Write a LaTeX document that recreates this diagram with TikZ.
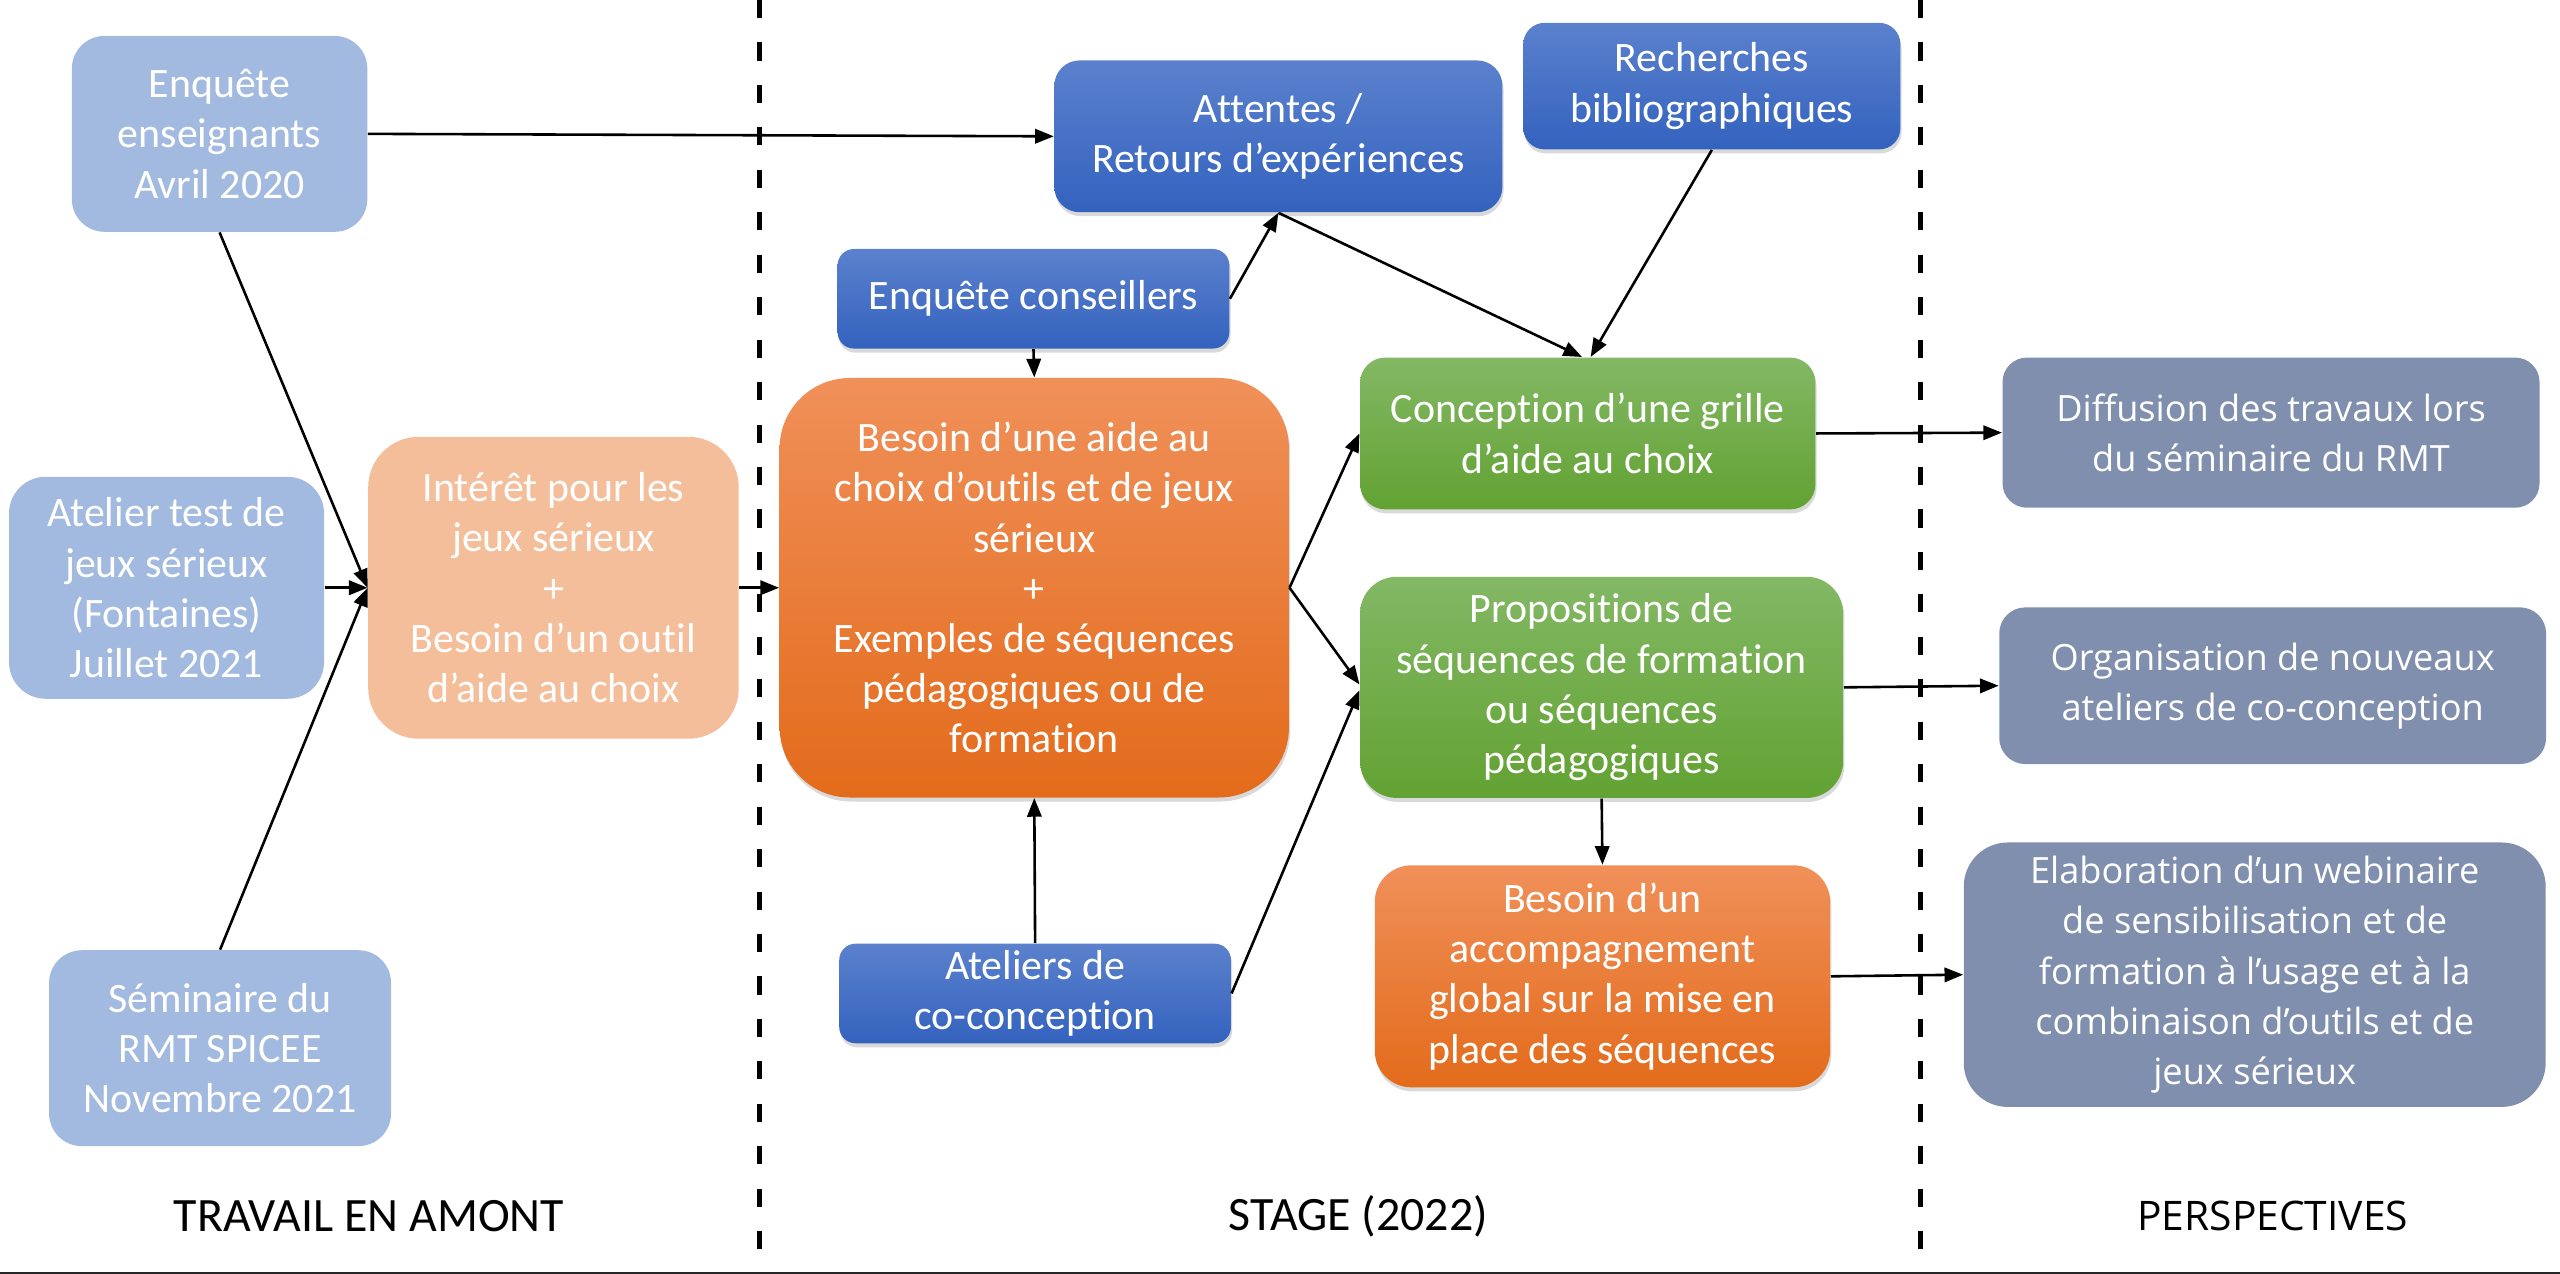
\documentclass[tikz,border=0pt]{standalone}
\usepackage{fontspec}
\setmainfont{Carlito}[Ligatures=NoCommon]
\newfontfamily\osans{Open Sans}[Ligatures=NoCommon]
\usetikzlibrary{shadows,arrows.meta}
\definecolor{paleblue}{HTML}{A2B9E0}
\definecolor{peach}{HTML}{F5BE9A}
\definecolor{bluetop}{HTML}{5B81CD}
\definecolor{bluebot}{HTML}{3362BE}
\definecolor{orangetop}{HTML}{F09059}
\definecolor{orangemid}{HTML}{F47C2D}
\definecolor{orangebot}{HTML}{E36B1B}
\definecolor{greentop}{HTML}{83B865}
\definecolor{greenmid}{HTML}{70AF45}
\definecolor{greenbot}{HTML}{62A232}
\definecolor{slate}{HTML}{808FAE}
\tikzset{box/.style = {rectangle, text=white, align=center, inner sep=2pt, font=\fontsize{14.6}{17.5}\selectfont},
         paleblock/.style = {box, fill=paleblue},
         peachblock/.style = {box, fill=peach},
         shad/.style = {drop shadow={shadow xshift=0.4pt, shadow yshift=-1.4pt, opacity=0.3}},
         blueblock/.style = {box, shad, top color=bluetop, bottom color=bluebot},
         orangeblock/.style = {box, shad, top color=orangetop, middle color=orangemid, bottom color=orangebot},
         greenblock/.style = {box, shad, top color=greentop, middle color=greenmid, bottom color=greenbot},
         greyblock/.style = {box, fill=slate, font=\osans\fontsize{12.6}{17.5}\selectfont},
         arr/.style = {-{Triangle[length=6.5pt,width=5pt]}, line width=0.9pt},
         sep/.style = {line width=1.8pt, dash pattern=on 6.3pt off 8.5pt},
         phase/.style = {font=\fontsize{16.7}{19}\selectfont}}
\begin{document}
\begin{tikzpicture}[x=0.02cm, y=-0.02cm]
    \useasboundingbox (0,0) rectangle (1568,780.3);
    % separations
    \draw[sep] (465,0)--(465,780.3);
    \draw[sep] (1176.5,0)--(1176.5,780.3);
    \draw[line width=0.6pt, black!85] (0,779.5)--(1568,779.5);

    % travail en amont
    \node[paleblock, minimum width=3.62cm, minimum height=2.40cm, rounded corners=0.40cm](ens)at(134.5,82){Enquête\\enseignants\\Avril 2020};
    \node[paleblock, minimum width=3.86cm, minimum height=2.72cm, rounded corners=0.45cm](atel)at(102,360){Atelier test de\\jeux sérieux\\(Fontaines)\\Juillet 2021};
    \node[paleblock, minimum width=4.19cm, minimum height=2.40cm, rounded corners=0.40cm](semi)at(134.8,642){Séminaire du\\RMT SPICEE\\Novembre 2021};
    \node[peachblock, minimum width=4.54cm, minimum height=3.70cm, rounded corners=0.62cm](interet)at(339,360){Intérêt pour les\\jeux sérieux\\+\\Besoin d’un outil\\d’aide au choix};

    % stage
    \node[blueblock, minimum width=5.49cm, minimum height=1.86cm, rounded corners=0.31cm](attentes)at(783,83.5){Attentes /\\Retours d’expériences};
    \node[blueblock, minimum width=4.62cm, minimum height=1.55cm, rounded corners=0.26cm](biblio)at(1048.5,52.75){Recherches\\bibliographiques};
    \node[blueblock, minimum width=4.80cm, minimum height=1.22cm, rounded corners=0.20cm](conseil)at(633,183){Enquête conseillers};
    \node[orangeblock, minimum width=6.24cm, minimum height=5.14cm, rounded corners=0.86cm](besoin)at(633.5,360){Besoin d’une aide au\\choix d’outils et de jeux\\sérieux\\+\\Exemples de séquences\\pédagogiques ou de\\formation};
    \node[blueblock, minimum width=4.80cm, minimum height=1.22cm, rounded corners=0.20cm](cocon)at(634,608.5){Ateliers de\\co-conception};
    \node[greenblock, minimum width=5.58cm, minimum height=1.86cm, rounded corners=0.31cm](grille)at(972.5,265.5){Conception d’une grille\\d’aide au choix};
    \node[greenblock, minimum width=5.92cm, minimum height=2.71cm, rounded corners=0.45cm](propo)at(981,421){Propositions de\\séquences de formation\\ou séquences\\pédagogiques};
    \node[orangeblock, minimum width=5.58cm, minimum height=2.72cm, rounded corners=0.45cm](accomp)at(981.5,598){Besoin d’un\\accompagnement\\global sur la mise en\\place des séquences};

    % perspectives
    \node[greyblock, minimum width=6.58cm, minimum height=1.84cm, rounded corners=0.30cm](diffusion)at(1391,265){Diffusion des travaux lors\\du séminaire du RMT};
    \node[greyblock, minimum width=6.70cm, minimum height=1.92cm, rounded corners=0.32cm](orga)at(1392,420){Organisation de nouveaux\\ateliers de co-conception};
    \node[greyblock, minimum width=7.13cm, minimum height=3.24cm, rounded corners=0.54cm](webi)at(1381,597){Elaboration d’un webinaire\\de sensibilisation et de\\formation à l’usage et à la\\combinaison d’outils et de\\jeux sérieux};

    % titres des phases
    \node[phase](amont)at(226,745){TRAVAIL EN AMONT};
    \node[phase](stage)at(832,745){STAGE (2022)};
    \node[phase, font=\osans\fontsize{14.2}{17}\selectfont](persp)at(1392,745){PERSPECTIVES};

    % liens
    \draw[arr](ens.east)--(attentes.west);
    \draw[arr](ens.south)--(interet.west);
    \draw[arr](atel.east)--(interet.west);
    \draw[arr](semi.north)--(interet.west);
    \draw[arr](interet.east)--(besoin.west);
    \draw[arr](conseil.east)--(attentes.south);
    \draw[arr](conseil.south)--(besoin.north);
    \draw[arr](attentes.south)--([xshift=-2pt]grille.north);
    \draw[arr](biblio.south)--([xshift=1pt]grille.north);
    \draw[arr](besoin.east)--(grille.west);
    \draw[arr](besoin.east)--([yshift=1pt]propo.west);
    \draw[arr](cocon.east)--([yshift=-1pt]propo.west);
    \draw[arr](cocon.north)--(besoin.south);
    \draw[arr](propo.south)--(accomp.north);
    \draw[arr](grille.east)--(diffusion.west);
    \draw[arr](propo.east)--(orga.west);
    \draw[arr](accomp.east)--(webi.west);
\end{tikzpicture}
\end{document}
